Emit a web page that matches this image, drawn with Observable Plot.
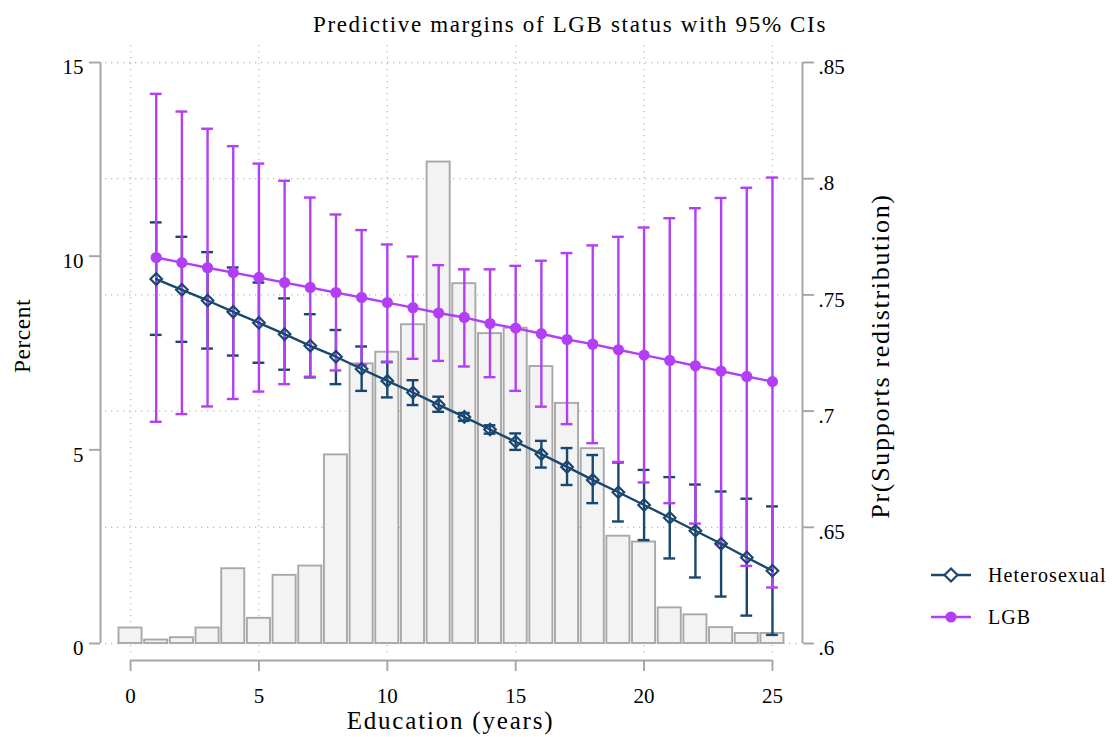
<!DOCTYPE html>
<html>
<head>
<meta charset="utf-8">
<script src="https://cdn.jsdelivr.net/npm/d3@7"></script>
<script src="https://cdn.jsdelivr.net/npm/@observablehq/plot@0.6"></script>
<style>
  body { margin: 0; background: #fff; }
  #wrap { position: relative; width: 1114px; height: 737px; font-family: "Liberation Serif", serif; color: #000; }
  #title { position: absolute; left: 570px; top: 12px; transform: translateX(-50%); white-space: nowrap;
           font-size: 23px; letter-spacing: 1.65px; }
  #chart { position: absolute; left: 0; top: 0; }
  #legend { position: absolute; left: 930px; top: 562px; font-size: 20px; letter-spacing: 1.1px; }
  #legend .row { display: flex; align-items: center; height: 26px; margin-bottom: 16px; }
  #legend svg { margin-right: 16px; }
</style>
</head>
<body>
<div id="wrap">
  <div id="chart"></div>
  <div id="title">Predictive margins of LGB status with 95% CIs</div>
  <div id="legend"></div>
</div>
<script>
// ---------- data ----------
const histYears = [0,1,2,3,4,5,6,7,8,9,10,11,12,13,14,15,16,17,18,19,20,21,22,23,24,25];
const histPct   = [0.40,0.09,0.15,0.40,1.93,0.65,1.76,2.00,4.87,7.22,7.52,8.23,12.43,9.29,8.00,8.14,7.15,6.20,5.03,2.77,2.62,0.92,0.74,0.41,0.26,0.26];

const years = [1,2,3,4,5,6,7,8,9,10,11,12,13,14,15,16,17,18,19,20,21,22,23,24,25];

const hetMargin = [0.7568,0.7522,0.7476,0.7427,0.7380,0.7331,0.7281,0.7234,0.7181,0.7130,0.7080,0.7027,0.6975,0.6921,0.6868,0.6815,0.6760,0.6704,0.6651,0.6596,0.6541,0.6485,0.6429,0.6370,0.6313];
const hetHi     = [0.7812,0.7750,0.7684,0.7618,0.7553,0.7485,0.7417,0.7349,0.7278,0.7212,0.7133,0.7062,0.6992,0.6939,0.6904,0.6872,0.6841,0.6811,0.6779,0.6747,0.6716,0.6684,0.6654,0.6623,0.6590];
const hetLo     = [0.7328,0.7298,0.7269,0.7239,0.7208,0.7178,0.7145,0.7116,0.7087,0.7059,0.7026,0.6997,0.6958,0.6903,0.6833,0.6757,0.6682,0.6604,0.6525,0.6445,0.6366,0.6284,0.6202,0.6120,0.6037];

const lgbMargin = [0.7661,0.7639,0.7617,0.7596,0.7575,0.7553,0.7532,0.7510,0.7489,0.7467,0.7445,0.7422,0.7403,0.7377,0.7357,0.7333,0.7308,0.7288,0.7264,0.7241,0.7218,0.7195,0.7172,0.7149,0.7127];
const lgbHi     = [0.8365,0.8289,0.8215,0.8140,0.8065,0.7991,0.7919,0.7846,0.7779,0.7717,0.7665,0.7628,0.7610,0.7610,0.7625,0.7647,0.7680,0.7713,0.7750,0.7790,0.7830,0.7873,0.7917,0.7961,0.8005];
const lgbLo     = [0.6954,0.6987,0.7020,0.7052,0.7084,0.7116,0.7148,0.7175,0.7199,0.7210,0.7225,0.7216,0.7192,0.7146,0.7087,0.7019,0.6944,0.6862,0.6781,0.6693,0.6604,0.6516,0.6428,0.6334,0.6241];

const xTicks     = [0,5,10,15,20,25];
const leftTicks  = [0,5,10,15];               // Percent
const rightTicks = [0.6,0.65,0.7,0.75,0.8,0.85]; // Pr(Supports redistribution)
const rightLabels = [".6",".65",".7",".75",".8",".85"];

const seriesNames = ["Heterosexual","LGB"];
const colors = {Heterosexual: "#1a476f", LGB: "#b23ff5"};

// ---------- derived tables ----------
const pctMax = 15, pMin = 0.6, pMax = 0.85;
const toP = pct => pMin + pct * (pMax - pMin) / pctMax;
const fromP = p => (p - pMin) * pctMax / (pMax - pMin);

const hist = histYears.map((yr, i) => ({yr, pct: histPct[i]}));
const het = years.map((yr, i) => ({yr, m: hetMargin[i], lo: hetLo[i], hi: hetHi[i]}));
const lgb = years.map((yr, i) => ({yr, m: lgbMargin[i], lo: lgbLo[i], hi: lgbHi[i]}));

const xDom = [-1.17, 26.17];
const axisColor = "#a4a4a4";
const gridColor = "#bdbdbd";
const capHalf = 0.23;

function ciMarks(data, color) {
  return [
    Plot.ruleX(data, {x: "yr", y1: "lo", y2: "hi", stroke: color, strokeWidth: 2.4}),
    Plot.ruleY(data, {y: "hi", x1: d => d.yr - capHalf, x2: d => d.yr + capHalf, stroke: color, strokeWidth: 2.4}),
    Plot.ruleY(data, {y: "lo", x1: d => d.yr - capHalf, x2: d => d.yr + capHalf, stroke: color, strokeWidth: 2.4})
  ];
}

const chart = Plot.plot({
  width: 1114,
  height: 737,
  marginLeft: 100,
  marginRight: 312,
  marginTop: 62,
  marginBottom: 94,
  x: {domain: xDom},
  y: {domain: [pMin, pMax]},
  style: {fontFamily: "Liberation Serif, serif", fontSize: "21px", color: "#000", background: "transparent"},
  marks: [
    // grid
    Plot.gridY({ticks: rightTicks, insetLeft: 5, insetRight: 5, stroke: gridColor, strokeOpacity: 1, strokeWidth: 1.3, strokeDasharray: "1.3,4.7"}),
    Plot.gridX({ticks: xTicks, insetTop: -17, insetBottom: -14, stroke: gridColor, strokeOpacity: 1, strokeWidth: 1.3, strokeDasharray: "1.3,4.7"}),
    // histogram (percent, left axis)
    Plot.rect(hist, {x1: d => d.yr - 0.5, x2: d => d.yr + 0.5, y1: pMin, y2: d => toP(d.pct),
                     insetLeft: 1.3, insetRight: 1.3, fill: "#f3f3f3", stroke: "#a8a8a8", strokeWidth: 1.9}),
    // axis lines
    Plot.ruleX([xDom[0]], {y1: pMin, y2: pMax, stroke: axisColor, strokeWidth: 1.9}),
    Plot.ruleX([xDom[1]], {y1: pMin, y2: pMax, stroke: axisColor, strokeWidth: 1.9}),
    Plot.ruleY([pMin], {x1: xTicks[0], x2: xTicks[xTicks.length - 1], dy: 17, stroke: axisColor, strokeWidth: 1.9}),
    // left axis (Percent)
    Plot.axisY(leftTicks.map(toP), {anchor: "left", tickSize: 11, fill: "none", stroke: axisColor, strokeWidth: 1.9, label: null}),
    Plot.axisY(leftTicks.map(toP), {anchor: "left", tickSize: 0, tickPadding: 17, dy: 5, fill: "#000",
                                   tickFormat: p => String(Math.round(fromP(p))), label: null, fontSize: 21}),
    // right axis (probability)
    Plot.axisY(rightTicks, {anchor: "right", tickSize: 11, fill: "none", stroke: axisColor, strokeWidth: 1.9, label: null}),
    Plot.axisY(rightTicks, {anchor: "right", tickSize: 0, tickPadding: 16, dy: 5, fill: "#000",
                            tickFormat: p => rightLabels[rightTicks.indexOf(p)], label: null, fontSize: 21}),
    // x axis
    Plot.axisX(xTicks, {anchor: "bottom", tickSize: 11, dy: 17, fill: "none", stroke: axisColor, strokeWidth: 1.9, label: null}),
    Plot.axisX(xTicks, {anchor: "bottom", tickSize: 0, tickPadding: 28, dy: 17, fill: "#000", label: null, fontSize: 21}),
    // axis titles
    Plot.text(["Percent"], {frameAnchor: "left", dx: -78, dy: -17, rotate: -90, fontSize: 23.5,
                            textAnchor: "middle", lineAnchor: "middle", text: d => d}),
    Plot.text(["Pr(Supports redistribution)"], {frameAnchor: "right", dx: 78, dy: 3, rotate: -90, fontSize: 26,
                            textAnchor: "middle", lineAnchor: "middle", text: d => d}),
    Plot.text(["Education (years)"], {frameAnchor: "bottom", dx: -1, dy: 77, fontSize: 25,
                            textAnchor: "middle", lineAnchor: "middle", text: d => d}),
    // confidence intervals
    ...ciMarks(het, colors.Heterosexual),
    ...ciMarks(lgb, colors.LGB),
    // connected lines + markers
    Plot.line(het, {x: "yr", y: "m", stroke: colors.Heterosexual, strokeWidth: 2.4}),
    Plot.dot(het, {x: "yr", y: "m", symbol: "diamond2", r: 5.2, fill: "none", stroke: colors.Heterosexual, strokeWidth: 2.2}),
    Plot.line(lgb, {x: "yr", y: "m", stroke: colors.LGB, strokeWidth: 2.4}),
    Plot.dot(lgb, {x: "yr", y: "m", r: 5.6, fill: colors.LGB, stroke: "none"})
  ]
});
document.getElementById("chart").appendChild(chart);

// letter spacing for axis titles
chart.querySelectorAll("text").forEach(t => {
  const s = t.textContent;
  if (s === "Pr(Supports redistribution)") t.style.letterSpacing = "1.7px";
  if (s === "Education (years)") t.style.letterSpacing = "1.8px";
  if (s === "Percent") t.style.letterSpacing = "0.5px";
});

// ---------- legend ----------
const legend = document.getElementById("legend");
seriesNames.forEach(name => {
  const row = document.createElement("div");
  row.className = "row";
  const c = colors[name];
  const marker = name === "LGB"
    ? `<circle cx="21" cy="13" r="5.6" fill="${c}"/>`
    : `<path d="M21,6.5 L27.5,13 L21,19.5 L14.5,13Z" fill="#fff" stroke="${c}" stroke-width="2.2"/>`;
  row.innerHTML = `<svg width="42" height="26"><line x1="1" y1="13" x2="41" y2="13" stroke="${c}" stroke-width="2.4"/>${marker}</svg><span>${name}</span>`;
  legend.appendChild(row);
});
</script>
</body>
</html>
